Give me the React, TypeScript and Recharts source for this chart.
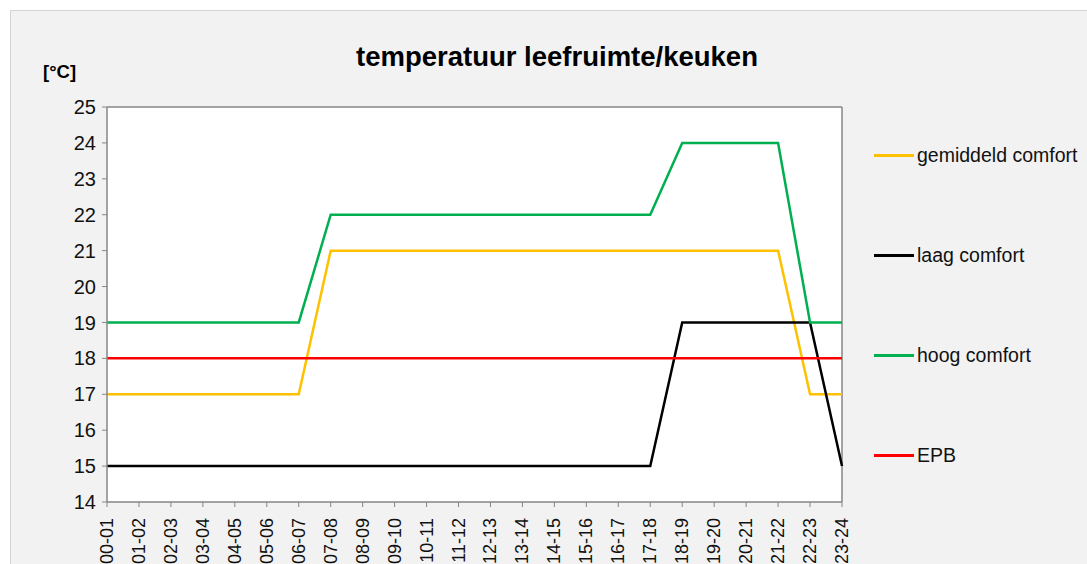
import React from 'react';
import { LineChart, Line, XAxis, YAxis, CartesianGrid, ReferenceLine } from 'recharts';

// ── Data ──────────────────────────────────────────────────────────────────────

const hours = [
  '00-01', '01-02', '02-03', '03-04', '04-05', '05-06', '06-07', '07-08',
  '08-09', '09-10', '10-11', '11-12', '12-13', '13-14', '14-15', '15-16',
  '16-17', '17-18', '18-19', '19-20', '20-21', '21-22', '22-23', '23-24',
];

const gemiddeld = [17, 17, 17, 17, 17, 17, 17, 21, 21, 21, 21, 21, 21, 21, 21, 21, 21, 21, 21, 21, 21, 21, 17, 17];
const laag      = [15, 15, 15, 15, 15, 15, 15, 15, 15, 15, 15, 15, 15, 15, 15, 15, 15, 15, 19, 19, 19, 19, 19, 15];
const hoog      = [19, 19, 19, 19, 19, 19, 19, 22, 22, 22, 22, 22, 22, 22, 22, 22, 22, 22, 24, 24, 24, 24, 19, 19];
const epb       = [18, 18, 18, 18, 18, 18, 18, 18, 18, 18, 18, 18, 18, 18, 18, 18, 18, 18, 18, 18, 18, 18, 18, 18];

const yTicks = [14, 15, 16, 17, 18, 19, 20, 21, 22, 23, 24, 25];

const series = [
  { key: 'gemiddeld', name: 'gemiddeld comfort', color: '#ffc000' },
  { key: 'laag',      name: 'laag comfort',      color: '#000000' },
  { key: 'hoog',      name: 'hoog comfort',      color: '#00b050' },
  { key: 'epb',       name: 'EPB',               color: '#ff0000' },
];

const data = hours.map((h, i) => ({
  h,
  gemiddeld: gemiddeld[i],
  laag: laag[i],
  hoog: hoog[i],
  epb: epb[i],
}));

// ── Styles ────────────────────────────────────────────────────────────────────

const FONT = "'Liberation Sans', Arial, sans-serif";
const AXIS = '#868686';

function HourTick({ x = 0, y = 0, payload }: any) {
  return (
    <text
      transform={`translate(${x},${y + 9}) rotate(-90)`}
      textAnchor="end" dominantBaseline="central"
      fontFamily={FONT} fontSize={18} fill="#111"
    >
      {payload.value}
    </text>
  );
}

export default function App() {
  return (
    <div style={{ position: 'absolute', left: 0, top: 0, width: 1087, height: 564, background: '#fff', overflow: 'hidden' }}>
      <div style={{
        position: 'absolute', left: 10, top: 10, width: 1100, height: 580,
        background: '#f2f2f2', border: '1px solid #d4d4d4',
      }} />

      <div style={{
        position: 'absolute', left: 0, width: 1114, top: 41, textAlign: 'center',
        fontFamily: FONT, fontWeight: 700, fontSize: 27.5, color: '#000',
      }}>
        temperatuur leefruimte/keuken
      </div>
      <div style={{
        position: 'absolute', left: 43, top: 61,
        fontFamily: FONT, fontWeight: 700, fontSize: 18.5, color: '#000',
      }}>
        [°C]
      </div>

      <div style={{ position: 'absolute', left: 0, top: 0 }}>
        <LineChart width={1087} height={564} data={data}
          margin={{ top: 107, right: 245, bottom: 10, left: 57 }}>
          <CartesianGrid horizontal={false} vertical={false} fill="#fff" />
          <XAxis
            dataKey="h" interval={0} height={52}
            tick={<HourTick />}
            stroke={AXIS} tickSize={5} axisLine={{ stroke: AXIS, strokeWidth: 1.5 }}
          />
          <YAxis
            domain={[14, 25]} ticks={yTicks} interval={0} width={50}
            tick={{ fontFamily: FONT, fontSize: 20, fill: '#111' }}
            stroke={AXIS} tickSize={5} tickMargin={6} axisLine={{ stroke: AXIS, strokeWidth: 1.5 }}
          />
          <ReferenceLine y={25} stroke={AXIS} strokeWidth={1.5} />
          <ReferenceLine x="23-24" stroke={AXIS} strokeWidth={1.5} />
          {series.map(s => (
            <Line key={s.key} dataKey={s.key} name={s.name} type="linear"
              stroke={s.color} strokeWidth={2.5} dot={false} activeDot={false}
              isAnimationActive={false} />
          ))}
        </LineChart>
      </div>

      {series.map((s, i) => (
        <div key={s.key} style={{
          position: 'absolute', left: 874, top: 144 + i * 100, height: 22,
          display: 'flex', alignItems: 'center', whiteSpace: 'nowrap',
          fontFamily: FONT, fontSize: 19.5, color: '#111',
        }}>
          <span style={{ display: 'inline-block', width: 40, height: 3, background: s.color, marginRight: 3 }} />
          {s.name}
        </div>
      ))}
    </div>
  );
}
